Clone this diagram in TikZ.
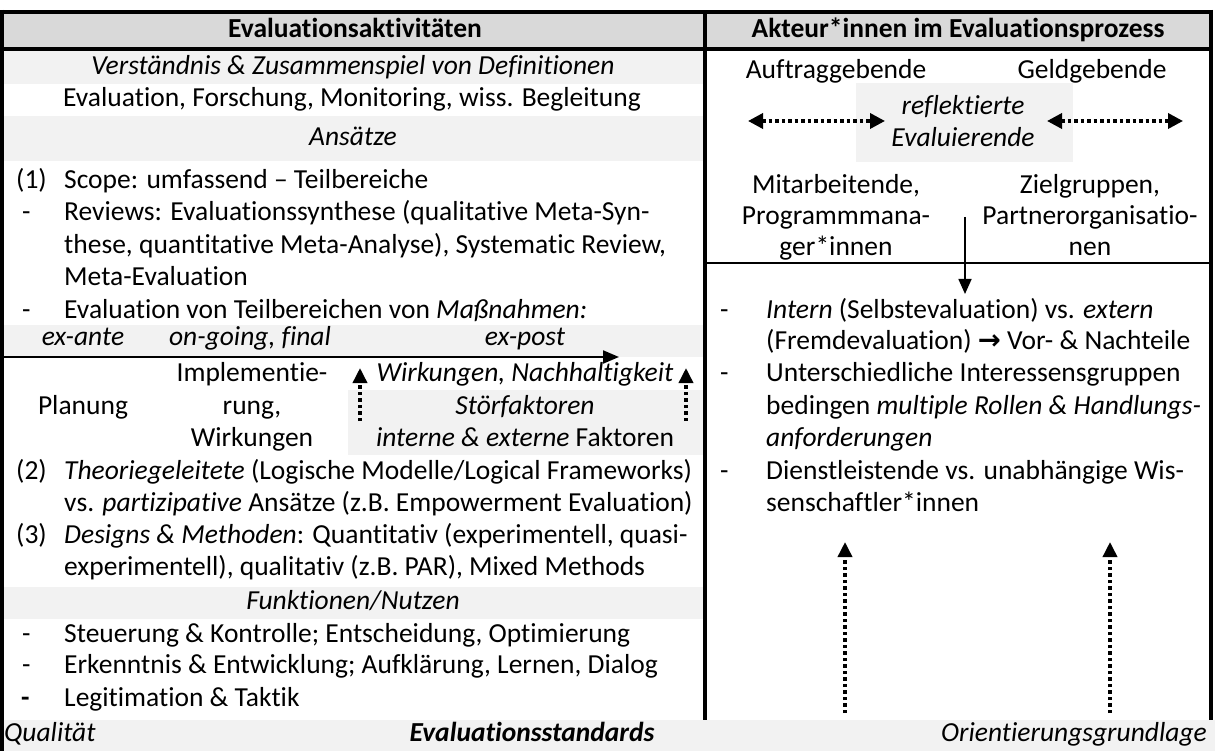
\documentclass[tikz,border=0pt]{standalone}
\usepackage{fontspec}
\setmainfont{Carlito}[Ligatures={NoCommon}]
\newfontfamily\arrowfont{DejaVu Sans}
\usetikzlibrary{arrows.meta}
\definecolor{hdrgray}{HTML}{D9D9D9}
\definecolor{bandgray}{HTML}{F2F2F2}
\newcommand\bodysize{\fontsize{27.5}{32}\selectfont}
\tikzset{
  t/.style={inner sep=0pt, font=\bodysize, text height=19pt, text depth=6pt},
  tl/.style={t, anchor=west},
  tr/.style={t, anchor=east},
  border/.style={line width=4pt},
  thinline/.style={line width=2pt},
  band/.style={fill=bandgray, draw=none},
  dotarrow/.style={line width=3.5pt, dash pattern=on 3.5pt off 3pt, -{Triangle[length=15pt,width=14pt]}},
  dotdouble/.style={line width=3.5pt, dash pattern=on 3.5pt off 3pt, {Triangle[length=15pt,width=15pt]}-{Triangle[length=15pt,width=15pt]}},
  solidarrow/.style={line width=1.6pt, -{Triangle[length=15pt,width=13pt]}},
}
\begin{document}
\begin{tikzpicture}[x=1pt,y=-1pt]
\useasboundingbox (0,0) rectangle (1215,751);
% backgrounds
\fill[hdrgray] (2,12) rectangle (1211,50);
\fill[band] (2,50) rectangle (705,84);
\fill[band] (2,116) rectangle (705,161);
\fill[band] (2,325) rectangle (705,357);
\fill[band] (348,390) rectangle (705,455);
\fill[band] (2,587) rectangle (705,619);
\fill[band] (2,720) rectangle (1215,751);
\fill[band] (856,83) rectangle (1073,162);
% borders
\draw[border] (0,12) -- (1213,12);
\draw[border] (0,49) -- (1213,49);
\draw[border] (2,10) -- (2,751);
\draw[border] (1211,10) -- (1211,720);
\draw[border] (705,12) -- (705,720);
\draw[thinline] (705,263) -- (1211,263);
% headers
\node[t, font=\bodysize\bfseries] (h1) at (355,31) {Evaluationsaktivitäten};
\node[t, font=\bodysize\bfseries] (h2) at (958,31) {Akteur*innen im Evaluationsprozess};
% left column
\node[t] (l1) at (353,68) {\itshape Verständnis \& Zusammenspiel von Definitionen};
\node[t] (l2) at (352,100) {Evaluation, Forschung, Monitoring, wiss. Begleitung};
\node[t] (l3) at (353,139) {\itshape Ansätze};
\node[tl] (n1) at (16,182) {(1)};
\node[tl] (l4) at (64,182) {Scope: umfassend – Teilbereiche};
\node[tl] (d1) at (22,214) {-};
\node[tl] (l5) at (64,214) {Reviews: Evaluationssynthese (qualitative Meta-Syn-};
\node[tl] (l6) at (64,247) {these, quantitative Meta-Analyse), Systematic Review,};
\node[tl] (l7) at (64,279) {Meta-Evaluation};
\node[tl] (d2) at (22,312) {-};
\node[tl] (l8) at (64,312) {Evaluation von Teilbereichen von \textit{Maßnahmen:}};
\node[t] (p1) at (83,339) {\itshape ex-ante};
\node[t] (p2) at (250,339) {\itshape on-going, final};
\node[t] (p3) at (525,339) {\itshape ex-post};
\coordinate (tl0) at (4,357);
\coordinate (tl1) at (619,357);
\draw[line width=2pt, -{Triangle[length=16pt,width=13pt]}] (tl0) -- (tl1);
\node[t] (i1) at (252,375) {Implementie-};
\node[t] (i2) at (252,408) {rung,};
\node[t] (i3) at (252,440) {Wirkungen};
\node[t] (pl) at (83,408) {Planung};
\node[t] (w1) at (525,375) {\itshape Wirkungen, Nachhaltigkeit};
\node[t] (w2) at (525,408) {\itshape Störfaktoren};
\node[t] (w3) at (525,440) {\textit{interne \& externe} Faktoren};
\coordinate (a1b) at (360,421);
\coordinate (a1t) at (360,368);
\coordinate (a2b) at (686,421);
\coordinate (a2t) at (686,368);
\draw[dotarrow] (a1b) -- (a1t);
\draw[dotarrow] (a2b) -- (a2t);
\node[tl] (n2) at (16,473) {(2)};
\node[tl] (l13) at (64,473) {\textit{Theoriegeleitete} (Logische Modelle/Logical Frameworks)};
\node[tl] (l14) at (64,505) {vs. \textit{partizipative} Ansätze (z.B. Empowerment Evaluation)};
\node[tl] (n3) at (16,537) {(3)};
\node[tl] (l15) at (64,537) {\textit{Designs \& Methoden}: Quantitativ (experimentell, quasi-};
\node[tl] (l16) at (64,569) {experimentell), qualitativ (z.B. PAR), Mixed Methods};
\node[t] (l17) at (353,603) {\itshape Funktionen/Nutzen};
\node[tl] (d3) at (22,636) {-};
\node[tl] (l18) at (64,636) {Steuerung \& Kontrolle; Entscheidung, Optimierung};
\node[tl] (d4) at (22,667) {-};
\node[tl] (l19) at (64,667) {Erkenntnis \& Entwicklung; Aufklärung, Lernen, Dialog};
\node[tl, font=\bodysize\bfseries] (d5) at (21,700) {-};
\node[tl] (l20) at (64,700) {Legitimation \& Taktik};
% bottom band
\node[tl] (b1) at (4,735) {\itshape Qualität};
\node[t] (b2) at (532,735) {\bfseries\itshape Evaluationsstandards};
\node[tr] (b3) at (1207,735) {\itshape Orientierungsgrundlage};
% right column top
\node[t] (r1) at (836,72) {Auftraggebende};
\node[t] (r2) at (1092,72) {Geldgebende};
\node[t] (ev1) at (963,108) {\itshape reflektierte};
\node[t] (ev2) at (963,140) {\itshape Evaluierende};
\coordinate (la) at (748,121);
\coordinate (lb) at (885,121);
\coordinate (ra) at (1047,121);
\coordinate (rb) at (1183,121);
\draw[dotdouble] (la) -- (lb);
\draw[dotdouble] (ra) -- (rb);
\node[t] (m1) at (836,187) {Mitarbeitende,};
\node[t] (m2) at (836,218) {Programmmana-};
\node[t] (m3) at (836,249) {ger*innen};
\node[t] (z1) at (1090,187) {Zielgruppen,};
\node[t] (z2) at (1090,218) {Partnerorganisatio-};
\node[t] (z3) at (1090,249) {nen};
\coordinate (va) at (965,217);
\coordinate (vb) at (965,294);
\draw[solidarrow] (va) -- (vb);
% right column list
\node[tl] (rd1) at (720,312) {-};
\node[tl] (q1) at (766,312) {\textit{Intern} (Selbstevaluation) vs. \textit{extern}};
\node[tl] (q2) at (766,343) {(Fremdevaluation) {\arrowfont\bfseries →} Vor- \& Nachteile};
\node[tl] (rd2) at (720,375) {-};
\node[tl] (q3) at (766,375) {Unterschiedliche Interessensgruppen};
\node[tl] (q4) at (766,408) {bedingen \textit{multiple Rollen \& Handlungs-}};
\node[tl] (q5) at (766,440) {\itshape anforderungen};
\node[tl] (rd3) at (720,473) {-};
\node[tl] (q6) at (766,473) {Dienstleistende vs. unabhängige Wis-};
\node[tl] (q7) at (766,505) {senschaftler*innen};
\coordinate (u1b) at (845,713);
\coordinate (u1t) at (845,542);
\coordinate (u2b) at (1110,713);
\coordinate (u2t) at (1110,542);
\draw[dotarrow] (u1b) -- (u1t);
\draw[dotarrow] (u2b) -- (u2t);
\end{tikzpicture}
\end{document}
